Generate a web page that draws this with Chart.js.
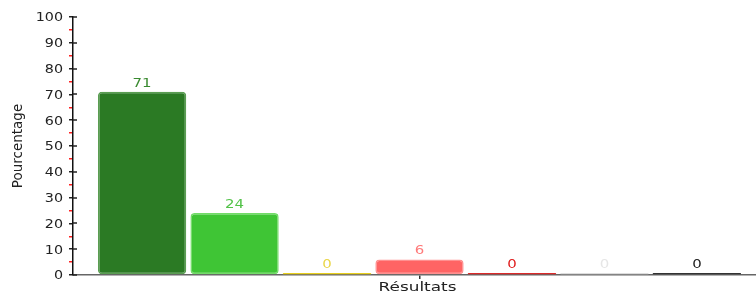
<!DOCTYPE html>
<html>
<head>
<meta charset="utf-8">
<script src="https://cdn.jsdelivr.net/npm/chart.js@4.4.0/dist/chart.umd.min.js"></script>
<style>
  html, body { margin: 0; padding: 0; background: #fff; overflow: hidden; }
  #wrap { width: 766px; height: 295px; }
</style>
</head>
<body>
<div id="wrap"><canvas id="resultChart" width="766" height="295"></canvas></div>
<script>
// Chart data
const categories = ['Résultats'];
const seriesNames = ['Série 1', 'Série 2', 'Série 3', 'Série 4', 'Série 5', 'Série 6', 'Série 7'];
const seriesValues = [71, 24, 0, 6, 0, 0, 0];
const fillColors = ['#2b7a24', '#3fc535', '#e8cf1c', '#ff6464', '#dc2a2a', '#dddddd', '#333333'];
const edgeColors = ['#5a9e52', '#72dc68', '#e8cf1c', '#ff9090', '#dc2a2a', '#dddddd', '#333333'];
const labelColors = ['#3a8a30', '#52c248', '#ead64a', '#ff7a7a', '#e01e1e', '#e6e6e6', '#222222'];
const yTicks = [0, 10, 20, 30, 40, 50, 60, 70, 80, 90, 100];
const yTitle = 'Pourcentage';

// text drawn a bit wider than normal, like the original picture
function drawWide(ctx, text, x, y, align, sx) {
    ctx.save();
    ctx.translate(x, y);
    ctx.scale(sx, 1);
    ctx.textAlign = align;
    ctx.fillText(text, 0, 0);
    ctx.restore();
}

const labelsPlugin = {
    id: 'labelsPlugin',
    afterDraw(chart) {
        const ctx = chart.ctx;
        const xs = chart.scales.x, ys = chart.scales.y;
        const area = chart.chartArea;
        ctx.save();

        // major ticks crossing the y axis
        ctx.strokeStyle = '#222';
        ctx.lineWidth = 1.5;
        yTicks.forEach(v => {
            const py = Math.round(ys.getPixelForValue(v));
            ctx.beginPath();
            ctx.moveTo(area.left, py);
            ctx.lineTo(area.left + 4, py);
            ctx.stroke();
        });

        // y tick labels
        ctx.font = '13px "DejaVu Sans"';
        ctx.fillStyle = '#222';
        ctx.textBaseline = 'middle';
        yTicks.forEach(v => {
            drawWide(ctx, String(v), 63, ys.getPixelForValue(v) + 1, 'right', 1.1);
        });

        // x category label
        ctx.font = '12.5px "DejaVu Sans"';
        ctx.textBaseline = 'alphabetic';
        drawWide(ctx, categories[0], xs.getPixelForValue(0) - 2, 291, 'center', 1.35);

        // values above bars
        ctx.font = '13px "DejaVu Sans"';
        ctx.textBaseline = 'bottom';
        chart.data.datasets.forEach((ds, i) => {
            const bar = chart.getDatasetMeta(i).data[0];
            ctx.fillStyle = labelColors[i];
            drawWide(ctx, String(ds.data[0]), bar.x, bar.y - 2, 'center', 1.15);
        });

        // y axis title
        ctx.fillStyle = '#222';
        ctx.font = '13.5px "DejaVu Sans"';
        ctx.translate(18, (area.top + area.bottom) / 2);
        ctx.rotate(-Math.PI / 2);
        ctx.textAlign = 'center';
        ctx.textBaseline = 'middle';
        ctx.fillText(yTitle, 0, 0);
        ctx.restore();
    }
};

const datasets = seriesNames.map((name, i) => ({
    label: name,
    data: [seriesValues[i]],
    backgroundColor: fillColors[i],
    borderColor: edgeColors[i],
    borderWidth: seriesValues[i] === 0 ? 0 : 1.5,
    borderRadius: 4,
    borderSkipped: false,
    minBarLength: 2,
    barPercentage: 0.955,
    categoryPercentage: 0.934
}));

new Chart(document.getElementById('resultChart').getContext('2d'), {
    type: 'bar',
    data: { labels: categories, datasets: datasets },
    options: {
        responsive: false,
        animation: false,
        devicePixelRatio: 1,
        layout: { padding: { top: 17, right: 0, left: 0, bottom: 0 } },
        plugins: {
            legend: { display: false },
            tooltip: { enabled: false }
        },
        scales: {
            x: {
                grid: { drawOnChartArea: false, offset: false, tickLength: 4, color: '#333', lineWidth: 1.5 },
                border: { color: '#666', width: 1.5 },
                ticks: { display: false },
                afterFit(scale) { scale.height = 20; }
            },
            y: {
                min: yTicks[0],
                max: yTicks[yTicks.length - 1],
                grid: {
                    drawOnChartArea: false,
                    tickLength: 4,
                    lineWidth: 1.5,
                    color: (c) => (c.tick && c.tick.value % 10 === 0) ? '#222' : '#ff2020'
                },
                border: { color: '#111', width: 1.5 },
                ticks: { display: false, stepSize: 5, autoSkip: false },
                afterFit(scale) { scale.width = 73; }
            }
        }
    },
    plugins: [labelsPlugin]
});
</script>
</body>
</html>
